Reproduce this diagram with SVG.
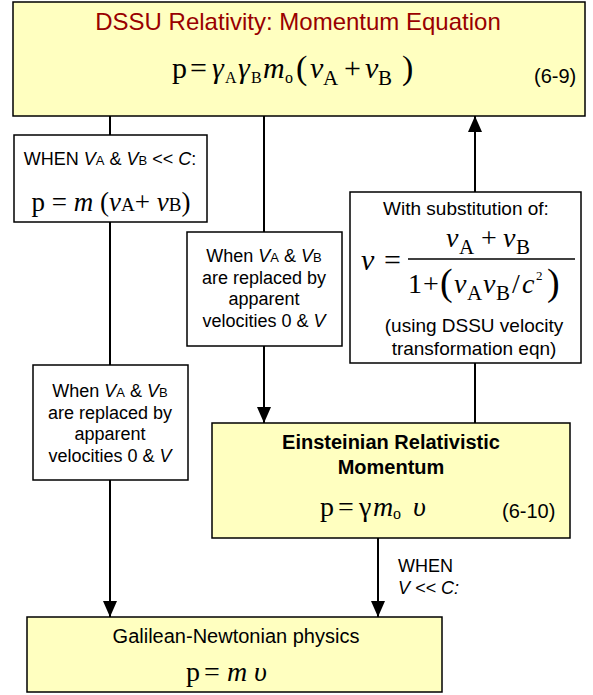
<svg xmlns="http://www.w3.org/2000/svg" width="593" height="695" viewBox="0 0 593 695">
<style>
.box{stroke:#000;stroke-width:1.5}
.y{fill:#FFFFC0}
.w{fill:#fff}
.s{font-family:"Liberation Sans",Arial,sans-serif;fill:#000}
.m{font-family:"Liberation Serif","Times New Roman",serif;fill:#000}
.i{font-style:italic}
.c{text-anchor:middle}
.ln{stroke:#000;stroke-width:2;fill:none}
</style>
<defs>
<marker id="ah" viewBox="0 0 16 14" refX="16" refY="7" markerWidth="16" markerHeight="14" orient="auto" markerUnits="userSpaceOnUse">
<path d="M0,0 L16,7 L0,14 Z" fill="#000"/>
</marker>
</defs>
<g id="connectors">
<line class="ln" x1="110" y1="116" x2="110" y2="617" marker-end="url(#ah)"/>
<line class="ln" x1="264" y1="116" x2="264" y2="423" marker-end="url(#ah)"/>
<line class="ln" x1="475" y1="423" x2="475" y2="116" marker-end="url(#ah)"/>
<line class="ln" x1="378" y1="538" x2="378" y2="617" marker-end="url(#ah)"/>
</g>
<g id="top">
<rect class="box y" x="13" y="2" width="572" height="114"/>
<text class="s c" x="298" y="30" font-size="24" style="fill:#990000">DSSU Relativity: Momentum Equation</text>
<text class="m" y="78" font-size="30"><tspan x="172">p</tspan><tspan x="190">=</tspan><tspan x="212" class="i">γ</tspan><tspan x="225" y="83" font-size="16">A</tspan><tspan x="238" y="78" class="i">γ</tspan><tspan x="251" y="83" font-size="16">B</tspan><tspan x="263" y="78" class="i">m</tspan><tspan x="285" y="83" font-size="16">o</tspan><tspan x="296" y="79" font-size="34">(</tspan><tspan x="310" y="78" class="i">ν</tspan><tspan x="323" y="85" font-size="21">A</tspan><tspan x="344" y="78">+</tspan><tspan x="365" y="78" class="i">ν</tspan><tspan x="378" y="85" font-size="21">B</tspan><tspan x="402" y="79" font-size="34">)</tspan></text>
<text class="s" x="534" y="83" font-size="20">(6-9)</text>
</g>
<g id="when-low">
<rect class="box w" x="14" y="135" width="193" height="87"/>
<text class="s c" x="110" y="165" font-size="18">WHEN <tspan class="i">V</tspan><tspan font-size="13">A</tspan> &amp; <tspan class="i">V</tspan><tspan font-size="13">B</tspan> &lt;&lt; <tspan class="i">C</tspan>:</text>
<text class="m c" x="111" y="211" font-size="27">p = <tspan class="i">m</tspan> (<tspan class="i">v</tspan><tspan font-size="19">A</tspan>+ <tspan class="i">v</tspan><tspan font-size="19">B</tspan>)</text>
</g>
<g id="replace-mid">
<rect class="box w" x="187" y="232" width="155" height="114"/>
<text class="s c" font-size="18"><tspan x="264" y="262">When <tspan class="i">V</tspan><tspan font-size="13">A</tspan> &amp; <tspan class="i">V</tspan><tspan font-size="13">B</tspan></tspan><tspan x="264" y="284">are replaced by</tspan><tspan x="264" y="305">apparent</tspan><tspan x="264" y="327">velocities 0 &amp; <tspan class="i">V</tspan></tspan></text>
</g>
<g id="substitution">
<rect class="box w" x="350" y="192" width="231" height="171"/>
<text class="s c" x="466" y="215" font-size="19">With substitution of:</text>
<text class="m i" x="361" y="270" font-size="30">ν</text>
<text class="m" x="384" y="270" font-size="30">=</text>
<line x1="408" y1="259" x2="575" y2="259" stroke="#000" stroke-width="1.5"/>
<text class="m" font-size="28" y="247"><tspan x="446" class="i">ν</tspan><tspan x="459" y="254" font-size="21">A</tspan><tspan x="481" y="247">+</tspan><tspan x="503" class="i">ν</tspan><tspan x="516" y="254" font-size="21">B</tspan></text>
<text class="m" font-size="28" y="293"><tspan x="408">1</tspan><tspan x="423">+</tspan><tspan x="440" y="295" font-size="38">(</tspan><tspan x="454" y="293" class="i">ν</tspan><tspan x="467" y="300" font-size="21">A</tspan><tspan x="483" y="293" class="i">ν</tspan><tspan x="496" y="300" font-size="21">B</tspan><tspan x="512" y="293">/</tspan><tspan x="522" class="i">c</tspan><tspan x="536" y="280" font-size="13">2</tspan><tspan x="547" y="295" font-size="38">)</tspan></text>
<text class="s c" font-size="19"><tspan x="474" y="332">(using DSSU velocity</tspan><tspan x="474" y="355">transformation eqn)</tspan></text>
</g>
<g id="replace-left">
<rect class="box w" x="33" y="365" width="155" height="115"/>
<text class="s c" font-size="18"><tspan x="110" y="397">When <tspan class="i">V</tspan><tspan font-size="13">A</tspan> &amp; <tspan class="i">V</tspan><tspan font-size="13">B</tspan></tspan><tspan x="110" y="419">are replaced by</tspan><tspan x="110" y="440">apparent</tspan><tspan x="110" y="462">velocities 0 &amp; <tspan class="i">V</tspan></tspan></text>
</g>
<g id="einstein">
<rect class="box y" x="212" y="423" width="358" height="115"/>
<text class="s c" font-size="20" font-weight="bold"><tspan x="391" y="449">Einsteinian Relativistic</tspan><tspan x="391" y="474">Momentum</tspan></text>
<text class="m" font-size="28" y="516"><tspan x="320">p</tspan><tspan x="338">=</tspan><tspan x="359">γ</tspan><tspan x="373" class="i">m</tspan><tspan x="393" y="519" font-size="16">o</tspan><tspan x="413" y="516" class="i">υ</tspan></text>
<text class="s" x="502" y="518" font-size="20">(6-10)</text>
</g>
<g id="label-vc">
<text class="s" font-size="18"><tspan x="398" y="572">WHEN</tspan><tspan x="398" y="594" class="i">V &lt;&lt; C:</tspan></text>
</g>
<g id="galilean">
<rect class="box y" x="27" y="617" width="415" height="75"/>
<text class="s c" x="236" y="643" font-size="20">Galilean-Newtonian physics</text>
<text class="m" font-size="28" y="681"><tspan x="186">p</tspan><tspan x="204">=</tspan><tspan x="227" class="i">m</tspan><tspan x="254" class="i">υ</tspan></text>
</g>
</svg>
